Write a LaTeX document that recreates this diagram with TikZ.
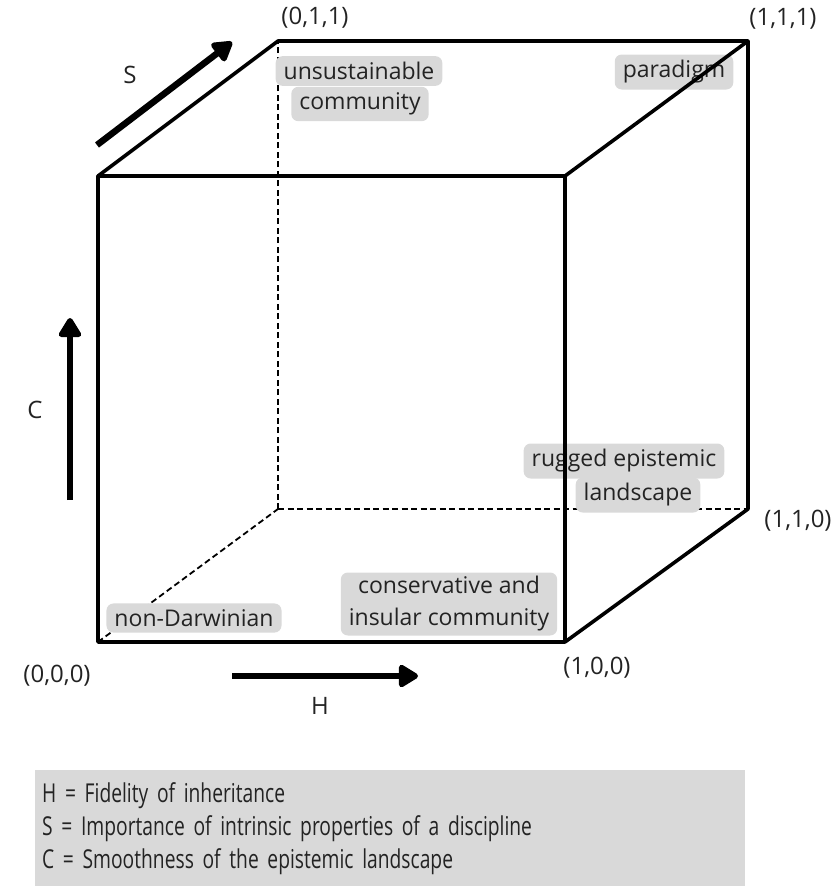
\documentclass[tikz,border=0pt]{standalone}
\usepackage{fontspec}
\setmainfont{Open Sans}
\newfontfamily\legendfont[FakeStretch=0.74]{Open Sans}
\usetikzlibrary{arrows.meta}
\definecolor{tagGray}{RGB}{217,217,217}
\definecolor{inkGray}{RGB}{35,35,35}

\tikzset{
  edge/.style={line width=3.6pt, line cap=round, line join=round},
  hidden/.style={line width=1.8pt, dash pattern=on 6pt off 3.5pt},
  tag/.style={fill=tagGray, rounded corners=7pt, inner xsep=8pt, inner ysep=6pt,
    text=inkGray, font=\fontsize{23}{32}\selectfont},
  corner/.style={text=inkGray, font=\fontsize{24}{26}\selectfont},
  axis/.style={line width=6.5pt, -{Triangle[length=22pt,width=25pt,round]}},
  legend/.style={fill=tagGray, anchor=north west, minimum width=710pt, minimum height=116pt,
    text width=696pt, align=left, inner xsep=7pt, text=inkGray,
    font=\legendfont\fontsize{26}{33}\selectfont}
}

\begin{document}
\begin{tikzpicture}[x=1pt,y=1pt,yscale=-1]
\useasboundingbox (0,0) rectangle (838,886);

% cube corners
\coordinate (o)   at (98,642);
\coordinate (h)   at (565,642);
\coordinate (c)   at (98,176);
\coordinate (hc)  at (565,176);
\coordinate (s)   at (278,509);
\coordinate (hs)  at (748,509);
\coordinate (cs)  at (278,41);
\coordinate (hcs) at (748,41);

% hidden edges
\draw[hidden] (o) -- (s);
\draw[hidden] (s) -- (cs);
\draw[hidden] (s) -- (hs);

% tags
\node[tag] (unsust) at (359,71) {unsustainable};
\node[tag] (commun) at (360,104) {community};
\node[tag] (paradigm) at (674,72) {paradigm};
\node[tag] (rugged) at (624,461) {rugged epistemic};
\node[tag] (landsc) at (638,495) {landscape};
\node[tag] (nondarwin) at (194,618) {non-Darwinian};
\node[tag, align=center, inner ysep=4pt] (conserv) at (449,604) {conservative and\\insular community};

% visible edges
\draw[edge] (o) -- (h) -- (hc) -- (c) -- cycle;
\draw[edge] (c) -- (cs) -- (hcs) -- (hs) -- (h);
\draw[edge] (hc) -- (hcs);

% corner labels
\node[corner] (l011) at (315,18) {(0,1,1)};
\node[corner] (l111) at (783,19) {(1,1,1)};
\node[corner] (l110) at (798,521) {(1,1,0)};
\node[corner] (l000) at (57,676) {(0,0,0)};
\node[corner] (l100) at (597,668) {(1,0,0)};

% axes
\coordinate (sFrom) at (97,145);
\coordinate (sTo) at (232,42);
\coordinate (cFrom) at (70,500);
\coordinate (cTo) at (70,318);
\coordinate (hFrom) at (232,676);
\coordinate (hTo) at (418,676);
\draw[axis] (sFrom) -- (sTo);
\draw[axis] (cFrom) -- (cTo);
\draw[axis] (hFrom) -- (hTo);
\node[corner] (sLab) at (130,75) {S};
\node[corner] (cLab) at (35,410) {C};
\node[corner] (hLab) at (320,706) {H};

% legend
\node[legend] (key) at (35,770) {H = Fidelity of inheritance\\
S = Importance of intrinsic properties of a discipline\\
C = Smoothness of the epistemic landscape};

\end{tikzpicture}
\end{document}
